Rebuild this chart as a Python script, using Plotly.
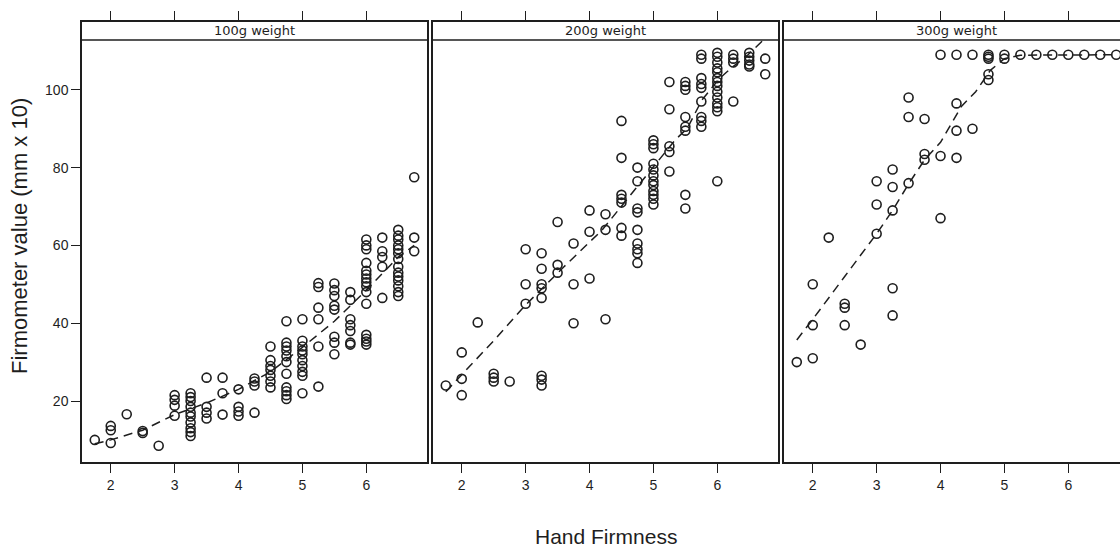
import plotly.graph_objects as go

# ---------------- data ----------------
levels = [1.75, 2.0, 2.25, 2.5, 2.75, 3.0, 3.25, 3.5, 3.75, 4.0, 4.25,
          4.5, 4.75, 5.0, 5.25, 5.5, 5.75, 6.0, 6.25, 6.5, 6.75]

vals_100 = [
    [10],
    [13.6, 12.5, 9.2],
    [16.6],
    [12.3, 11.8],
    [8.5],
    [21.5, 20.3, 18.8, 16.2],
    [22, 21, 20, 18.5, 17, 16, 14.5, 13, 12, 11],
    [26, 18.5, 17, 15.5],
    [26, 22, 16.5],
    [23, 18.5, 17.3, 16.2],
    [25.8, 25, 24, 17],
    [34, 30.5, 29, 28, 26.5, 25, 23.5],
    [40.5, 35, 34, 33, 31.5, 30, 27, 23.5, 22.5, 21.5, 20.5],
    [41, 35.5, 34, 33, 32, 30.5, 29, 27.5, 26.5, 22],
    [50.3, 49.3, 44, 41, 34, 23.7],
    [50.2, 48.5, 47, 44.5, 43.5, 36.5, 35, 32],
    [48, 46, 41, 39.5, 38, 35, 34.5],
    [61.5, 60, 59, 55.5, 53.5, 52.5, 51.5, 50.5, 49.5, 48, 45, 37, 36, 35.3, 34.5],
    [62, 58.5, 57, 54.5, 46.5],
    [64, 62.5, 61.5, 60, 59, 58, 56.5, 54.5, 53, 52, 51, 49.5, 48, 47],
    [77.5, 62, 58.5],
]

vals_200 = [
    [24],
    [32.5, 25.7, 21.5],
    [40.2],
    [27, 26, 25],
    [25],
    [59, 50, 45],
    [58, 54, 50, 49, 46.5, 26.5, 25.5, 24],
    [66, 55, 53],
    [60.5, 50, 40],
    [69, 63.5, 51.5],
    [68, 64, 41],
    [92, 82.5, 73, 72, 71, 64.5, 62.5],
    [80, 76.5, 69.5, 68.5, 64, 60.5, 59, 58, 55.5],
    [87, 86, 85, 81, 79.5, 78, 76.5, 75.5, 74, 73, 72, 70.5],
    [102, 95, 85.5, 84, 79],
    [102, 101, 100, 93, 90.5, 89.5, 73, 69.5],
    [109, 108, 103, 101.5, 100.5, 97, 93, 92, 90.5],
    [109.5, 108.5, 107, 105.5, 104.5, 103, 102, 101, 99.5, 98, 96.5, 95.5, 94.5, 76.5],
    [109, 108, 107, 97],
    [109.5, 108.5, 107.5, 106.5, 106],
    [108, 104],
]

vals_300 = [
    [30],
    [50, 39.5, 31],
    [62],
    [45, 44, 39.5],
    [34.5],
    [76.5, 70.5, 63],
    [79.5, 75, 69, 49, 42],
    [98, 93, 76],
    [92.5, 83.5, 82],
    [109, 83, 67],
    [109, 96.5, 89.5, 82.5],
    [109, 90],
    [109, 108.5, 108, 104, 102.5],
    [109, 108],
    [109],
    [109],
    [109],
    [109],
    [109],
    [109],
    [109],
]

fit_x_100 = [1.75, 2.0, 2.5, 3.0, 3.5, 4.0, 4.5, 5.0, 5.5, 6.0, 6.5, 6.75]
fit_y_100 = [9.0, 10.0, 12.5, 16.5, 19.5, 23.0, 27.5, 33.8, 40.5, 48.5, 57.0, 60.0]

fit_x_200 = [1.75, 2.5, 3.0, 3.6, 4.2, 4.75, 5.0, 5.34, 5.53, 5.76, 6.04, 6.22, 6.48, 6.72]
fit_y_200 = [22.4, 35.5, 44.7, 54.5, 64.0, 75.0, 80.3, 87.1, 90.1, 97.4, 103.0, 105.6, 109.0, 112.8]

fit_x_300 = [1.75, 2.0, 2.5, 3.0, 3.25, 3.5, 3.75, 4.0, 4.33, 4.55, 4.78, 5.0, 5.25, 6.75]
fit_y_300 = [35.7, 41.0, 52.0, 63.0, 69.0, 75.8, 82.0, 86.5, 95.8, 99.5, 105.0, 108.0, 108.9, 109.0]

panel_labels = ["100g weight", "200g weight", "300g weight"]
x_ticks = [2, 3, 4, 5, 6]
y_ticks = [20, 40, 60, 80, 100]

# ---------------- figure ----------------
W, H = 1120, 549
INK = "#1e1e1e"
FONT = "Liberation Sans, Arial, sans-serif"


def flatten(groups):
    xs, ys = [], []
    for lv, g in zip(levels, groups):
        for v in g:
            xs.append(lv)
            ys.append(v)
    return xs, ys


fig = go.Figure()
panels = [(vals_100, fit_x_100, fit_y_100),
          (vals_200, fit_x_200, fit_y_200),
          (vals_300, fit_x_300, fit_y_300)]

for i, (vals, fx_, fy_) in enumerate(panels):
    sfx = "" if i == 0 else str(i + 1)
    xs, ys = flatten(vals)
    fig.add_trace(go.Scatter(
        x=fx_, y=fy_, mode="lines", xaxis="x" + sfx, yaxis="y" + sfx,
        line=dict(color=INK, width=1.5, dash="9px,6px"), showlegend=False,
        hoverinfo="skip"))
    fig.add_trace(go.Scatter(
        x=xs, y=ys, mode="markers", xaxis="x" + sfx, yaxis="y" + sfx,
        marker=dict(symbol="circle-open", size=9, color=INK,
                    line=dict(color=INK, width=1.6)),
        showlegend=False))


def px2fx(px):
    return px / W


def py2fy(py):
    return 1 - py / H


x_domains = [[px2fx(82), px2fx(427)], [px2fx(433), px2fx(778)], [px2fx(784), 1.0]]
x_ranges = [[1.55, 6.95], [1.55, 6.95], [1.55, 1.55 + 336 / (345 / 5.4)]]
y_dom = [py2fy(462), py2fy(22)]
y_bottom, y_data_top = 4.32, 112.8
y_top = y_data_top + 18 * (y_data_top - y_bottom) / 422

layout = dict(
    width=W, height=H,
    margin=dict(l=0, r=0, t=0, b=0),
    paper_bgcolor="white", plot_bgcolor="white",
    font=dict(family=FONT, color=INK),
    showlegend=False,
)

for i in range(3):
    sfx = "" if i == 0 else str(i + 1)
    layout["xaxis" + sfx] = dict(
        domain=x_domains[i], range=x_ranges[i], anchor="y" + sfx,
        tickvals=x_ticks, ticktext=[str(t) for t in x_ticks],
        ticks="outside", ticklen=9, tickwidth=1.2, tickcolor=INK,
        showline=True, linecolor=INK, linewidth=1.5, mirror="ticks",
        showgrid=False, zeroline=False,
        tickfont=dict(size=14, family=FONT, color=INK),
    )
    layout["yaxis" + sfx] = dict(
        domain=y_dom, range=[y_bottom, y_top], anchor="x" + sfx,
        tickvals=y_ticks, ticktext=[str(t) for t in y_ticks],
        ticks="outside" if i == 0 else "", ticklen=9, tickwidth=1.2, tickcolor=INK,
        showticklabels=(i == 0),
        showline=True, linecolor=INK, linewidth=1.5, mirror=(i < 2),
        showgrid=False, zeroline=False,
        tickfont=dict(size=14, family=FONT, color=INK),
    )

fig.update_layout(**layout)

shapes = []
annotations = []
strip_centers = [254.5, 605.5, 956.5]
for i in range(3):
    sfx = "" if i == 0 else str(i + 1)
    shapes.append(dict(type="line", xref="x" + sfx + " domain", yref="y" + sfx,
                       x0=0, x1=1, y0=y_data_top, y1=y_data_top,
                       line=dict(color=INK, width=1.4)))
    annotations.append(dict(
        text=panel_labels[i], xref="paper", yref="y" + sfx,
        x=px2fx(strip_centers[i]), y=(y_data_top + y_top) / 2,
        xanchor="center", yanchor="middle", showarrow=False,
        font=dict(size=13, family="DejaVu Sans, sans-serif", color=INK)))

annotations.append(dict(
    text="Hand Firmness", xref="paper", yref="paper",
    x=px2fx(606), y=py2fy(536), xanchor="center", yanchor="middle",
    showarrow=False, font=dict(size=21, family=FONT, color=INK)))
annotations.append(dict(
    text="Firmometer value (mm x 10)", xref="paper", yref="paper",
    x=px2fx(19), y=py2fy(236), xanchor="center", yanchor="middle",
    textangle=-90, showarrow=False, font=dict(size=22, family=FONT, color=INK)))

fig.update_layout(shapes=shapes, annotations=annotations)

fig.write_html(
    "out.html",
    config={"displayModeBar": False},
    post_script="document.body.style.margin='0';document.body.style.padding='0';"
                "document.body.style.overflow='hidden';",
)
